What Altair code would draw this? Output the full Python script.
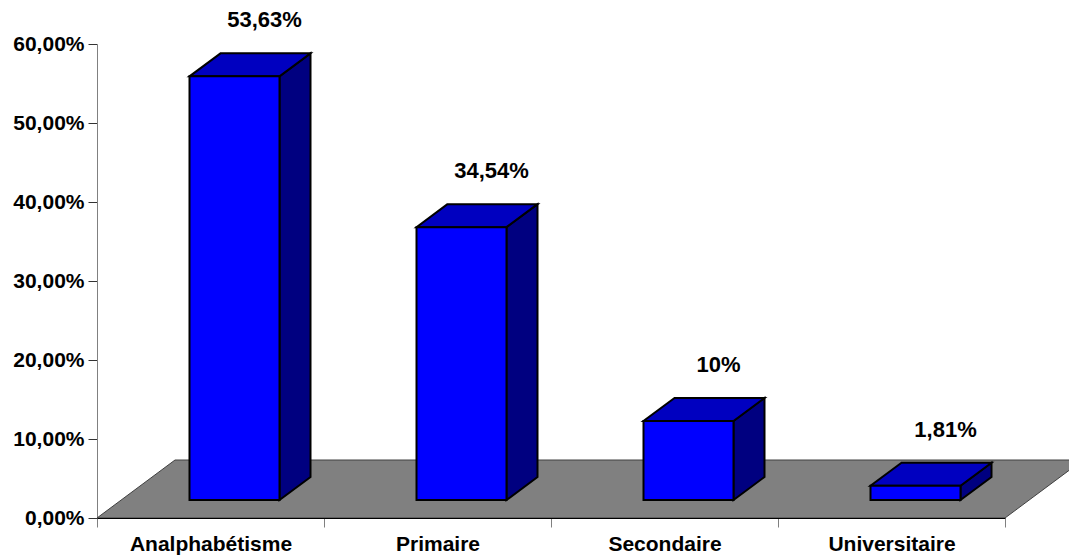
import json

import altair as alt
import pandas as pd

# Education level shares (%)
categories = ["Analphabétisme", "Primaire", "Secondaire", "Universitaire"]
shares = [53.63, 34.54, 10, 1.81]
y_ticks = [0, 10, 20, 30, 40, 50, 60]

# Plot area and oblique-projection geometry, in pixels
W, H = 908, 474
X_MAX, Y_MAX = len(categories), 60
ux = X_MAX / W          # x data units per pixel
uy = Y_MAX / H          # y data units per pixel

FLOOR_DX, FLOOR_DY = 78, 58     # depth of the floor slab
BAR_DX, BAR_DY = 31, 23         # depth of each column
BAR_W = 90                      # width of a column's front face
BAR_SHIFT_X, BAR_SHIFT_Y = 24, 18   # columns stand midway back on the floor

front_rows, side_rows, top_rows = [], [], []
for i, (cat, v) in enumerate(zip(categories, shares)):
    base = BAR_SHIFT_Y * uy
    cx = i + 0.5 + BAR_SHIFT_X * ux
    left = cx - BAR_W / 2 * ux
    right = cx + BAR_W / 2 * ux
    ddx, ddy = BAR_DX * ux, BAR_DY * uy
    front_rows.append(dict(cat=cat, value=v, x=left, x2=right, y=base, y2=base + v, xc=cx))
    side_rows += [
        dict(cat=cat, x=right, y=base, y2=base + v),
        dict(cat=cat, x=right + ddx, y=base + ddy, y2=base + v + ddy),
    ]
    top_rows += [
        dict(cat=cat, y=base + v, x=left, x2=right),
        dict(cat=cat, y=base + v + ddy, x=left + ddx, x2=right + ddx),
    ]

floor_rows = [
    dict(y=0, x=0, x2=X_MAX),
    dict(y=FLOOR_DY * uy, x=FLOOR_DX * ux, x2=X_MAX + FLOOR_DX * ux),
]

front_df = pd.DataFrame(front_rows)
side_df = pd.DataFrame(side_rows)
top_df = pd.DataFrame(top_rows)
floor_df = pd.DataFrame(floor_rows)

FONT = "Liberation Sans"
xs = alt.Scale(domain=[0, X_MAX], nice=False, zero=False)
ys = alt.Scale(domain=[0, Y_MAX], nice=False, zero=True)

names_js = json.dumps(categories, ensure_ascii=False)
x_axis = alt.Axis(
    values=[k / 2 for k in range(2 * X_MAX + 1)],
    labelExpr=f"datum.value % 1 ? {names_js}[floor(datum.value)] : ''",
    tickSize=9,
    tickColor="#808080",
    tickOpacity={"condition": {"test": "datum.value % 1 != 0", "value": 0}, "value": 1},
    domainColor="#000000",
    domainWidth=1,
    labelFont=FONT,
    labelFontSize=21,
    labelFontWeight="bold",
    labelColor="#000000",
    labelPadding=6,
    labelOverlap=False,
    labelFlush=False,
    grid=False,
    zindex=1,
    title=None,
)
y_axis = alt.Axis(
    values=y_ticks,
    labelExpr="replace(format(datum.value, '.2f'), '.', ',') + '%'",
    tickSize=9,
    tickColor="#333333",
    domainColor="#808080",
    labelFont=FONT,
    labelFontSize=21,
    labelFontWeight="bold",
    labelColor="#000000",
    labelPadding=4,
    labelFlush=False,
    labelOverlap=False,
    grid=False,
    title=None,
)

floor = alt.Chart(floor_df).mark_area(
    orient="horizontal", fill="#808080", stroke="#404040", strokeWidth=1
).encode(
    y=alt.Y("y:Q", scale=ys, axis=y_axis),
    x=alt.X("x:Q", scale=xs, axis=x_axis, stack=False),
    x2="x2:Q",
)

side = alt.Chart(side_df).mark_area(
    orient="vertical", fill="#000080", stroke="#000000", strokeWidth=2
).encode(
    x=alt.X("x:Q", scale=xs, axis=x_axis),
    y=alt.Y("y:Q", scale=ys, axis=y_axis, stack=False),
    y2="y2:Q",
    detail="cat:N",
)

top = alt.Chart(top_df).mark_area(
    orient="horizontal", fill="#0000C0", stroke="#000000", strokeWidth=2
).encode(
    y=alt.Y("y:Q", scale=ys, axis=y_axis),
    x=alt.X("x:Q", scale=xs, axis=x_axis, stack=False),
    x2="x2:Q",
    detail="cat:N",
)

front = alt.Chart(front_df).mark_rect(
    fill="#0000FF", stroke="#000000", strokeWidth=2
).encode(
    x=alt.X("x:Q", scale=xs, axis=x_axis),
    x2="x2:Q",
    y=alt.Y("y:Q", scale=ys, axis=y_axis),
    y2="y2:Q",
)

labels = alt.Chart(front_df).transform_calculate(
    label="replace(toString(datum.value), '.', ',') + '%'"
).mark_text(
    font=FONT, fontSize=22, fontWeight="bold", color="#000000",
    align="center", baseline="middle", dx=30, dy=-56,
).encode(
    x=alt.X("xc:Q", scale=xs, axis=x_axis),
    y=alt.Y("y2:Q", scale=ys, axis=y_axis),
    text="label:N",
)

chart = alt.layer(floor, side, top, front, labels).properties(
    width=W,
    height=H,
    padding={"left": 97, "top": 44, "right": 64, "bottom": 37},
    autosize=alt.AutoSizeParams(type="none"),
    background="#ffffff",
).configure_view(strokeWidth=0)

chart.save("out.html", embed_options={"renderer": "svg", "actions": False})
